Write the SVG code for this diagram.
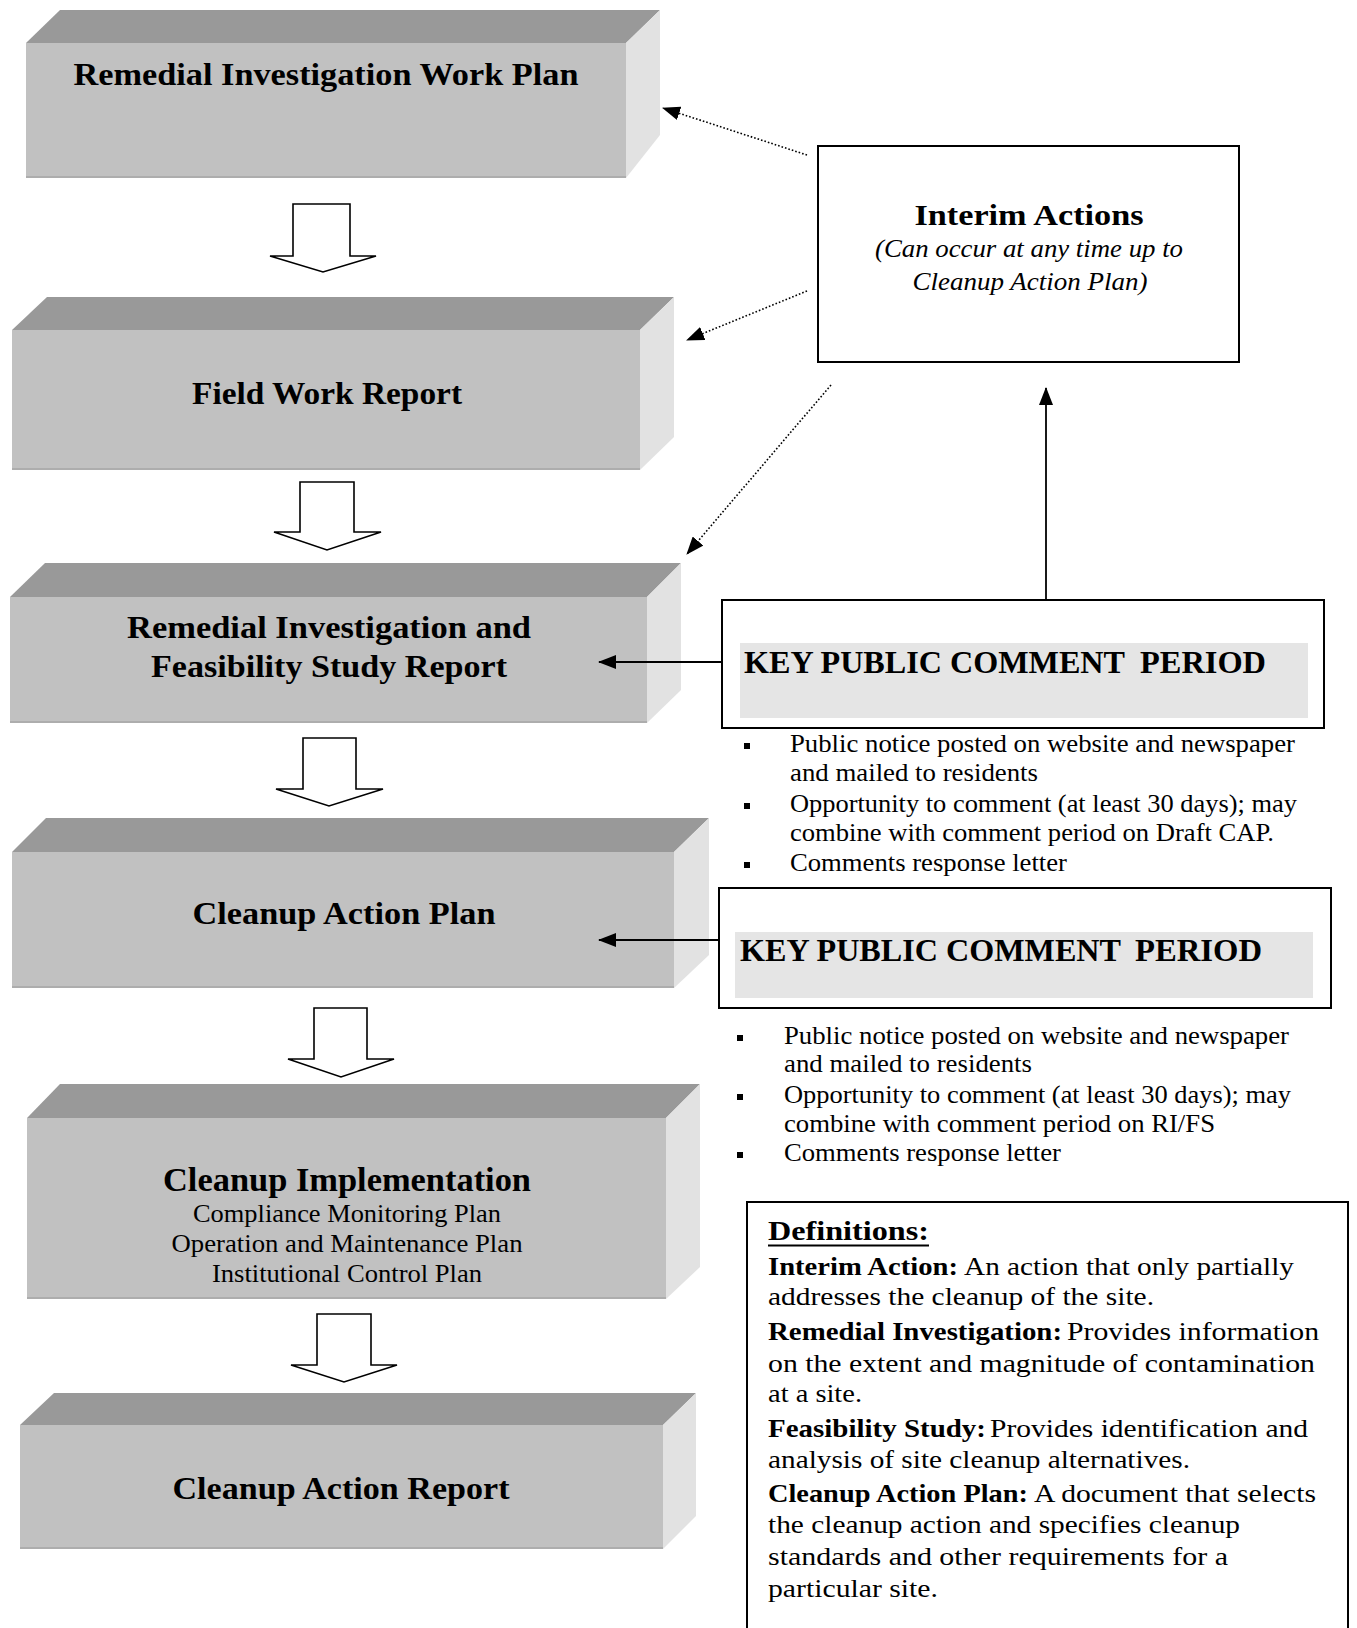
<svg xmlns="http://www.w3.org/2000/svg" width="1357" height="1628" viewBox="0 0 1357 1628">
<style>
.top{fill:#999999}
.front{fill:#c1c1c1}
.side{fill:#e2e2e2}
.edge{stroke:#adadad;stroke-width:2;fill:none}
.t{font-family:"Liberation Serif","Times New Roman",serif;fill:#000}
.b{font-weight:bold}
.i{font-style:italic}
.blk{fill:#fff;stroke:#000;stroke-width:1.6;stroke-linejoin:miter}
.frame{fill:#fff;stroke:#000;stroke-width:2}
.dot{stroke:#000;stroke-width:1.6;stroke-dasharray:1.6 2;fill:none}
.sol{stroke:#000;stroke-width:1.8;fill:none}
.bul{fill:#000}
</style>
<defs>
<marker id="ah" markerUnits="userSpaceOnUse" markerWidth="18" markerHeight="14" refX="17" refY="7" orient="auto">
<path d="M0,0 L18,7 L0,14 z" fill="#000"/>
</marker>
</defs>

<g id="box1">
<polygon class="top" points="26,43 60,10 660,10 626,43"/>
<polygon class="side" points="626,43 660,10 660,135 626,178"/>
<rect class="front" x="26" y="43" width="600" height="135"/>
<line class="edge" x1="26" y1="177" x2="626" y2="177"/>
<text class="t b" x="326" y="85" font-size="32" text-anchor="middle" textLength="505" lengthAdjust="spacingAndGlyphs">Remedial Investigation Work Plan</text>
</g>

<g id="box2">
<polygon class="top" points="12,330 47,297 674,297 640,330"/>
<polygon class="side" points="640,330 674,297 674,437 640,470"/>
<rect class="front" x="12" y="330" width="628" height="140"/>
<line class="edge" x1="12" y1="469" x2="640" y2="469"/>
<text class="t b" x="327" y="404" font-size="32" text-anchor="middle" textLength="270" lengthAdjust="spacingAndGlyphs">Field Work Report</text>
</g>

<g id="box3">
<polygon class="top" points="10,597 45,563 681,563 647,597"/>
<polygon class="side" points="647,597 681,563 681,690 647,723"/>
<rect class="front" x="10" y="597" width="637" height="126"/>
<line class="edge" x1="10" y1="722" x2="647" y2="722"/>
<text class="t b" x="329" y="638" font-size="32" text-anchor="middle" textLength="404" lengthAdjust="spacingAndGlyphs">Remedial Investigation and</text>
<text class="t b" x="329" y="677" font-size="32" text-anchor="middle" textLength="356" lengthAdjust="spacingAndGlyphs">Feasibility Study Report</text>
</g>

<g id="box4">
<polygon class="top" points="12,852 46,818 709,818 674,852"/>
<polygon class="side" points="674,852 709,818 709,955 674,988"/>
<rect class="front" x="12" y="852" width="662" height="136"/>
<line class="edge" x1="12" y1="987" x2="674" y2="987"/>
<text class="t b" x="344" y="924" font-size="32" text-anchor="middle" textLength="303" lengthAdjust="spacingAndGlyphs">Cleanup Action Plan</text>
</g>

<g id="box5">
<polygon class="top" points="27,1118 60,1084 700,1084 666,1118"/>
<polygon class="side" points="666,1118 700,1084 700,1267 666,1299"/>
<rect class="front" x="27" y="1118" width="639" height="181"/>
<line class="edge" x1="27" y1="1298" x2="666" y2="1298"/>
<text class="t b" x="347" y="1191" font-size="33" text-anchor="middle" textLength="368" lengthAdjust="spacingAndGlyphs">Cleanup Implementation</text>
<text class="t" x="347" y="1222" font-size="24.5" text-anchor="middle" textLength="308" lengthAdjust="spacingAndGlyphs">Compliance Monitoring Plan</text>
<text class="t" x="347" y="1252" font-size="24.5" text-anchor="middle" textLength="351" lengthAdjust="spacingAndGlyphs">Operation and Maintenance Plan</text>
<text class="t" x="347" y="1282" font-size="24.5" text-anchor="middle" textLength="270" lengthAdjust="spacingAndGlyphs">Institutional Control Plan</text>
</g>

<g id="box6">
<polygon class="top" points="20,1425 54,1393 696,1393 663,1425"/>
<polygon class="side" points="663,1425 696,1393 696,1516 663,1549"/>
<rect class="front" x="20" y="1425" width="643" height="124"/>
<line class="edge" x1="20" y1="1548" x2="663" y2="1548"/>
<text class="t b" x="341" y="1499" font-size="32" text-anchor="middle" textLength="337" lengthAdjust="spacingAndGlyphs">Cleanup Action Report</text>
</g>

<g id="interim">
<rect class="frame" x="818" y="146" width="421" height="216"/>
<text class="t b" x="1029" y="225" font-size="30" text-anchor="middle" textLength="229" lengthAdjust="spacingAndGlyphs">Interim Actions</text>
<text class="t i" x="1029" y="257" font-size="25" text-anchor="middle" textLength="308" lengthAdjust="spacingAndGlyphs">(Can occur at any time up to</text>
<text class="t i" x="1030" y="290" font-size="25" text-anchor="middle" textLength="235" lengthAdjust="spacingAndGlyphs">Cleanup Action Plan)</text>
</g>

<g id="kpcp1">
<rect class="frame" x="722" y="600" width="602" height="128"/>
<rect x="740" y="643" width="568" height="75" fill="#e5e5e5"/>
<text class="t b" x="744" y="673" font-size="31" textLength="381" lengthAdjust="spacingAndGlyphs">KEY PUBLIC COMMENT</text>
<text class="t b" x="1140" y="673" font-size="31" textLength="126" lengthAdjust="spacingAndGlyphs">PERIOD</text>
</g>

<g id="bullets1">
<rect class="bul" x="744" y="743" width="6" height="6"/>
<rect class="bul" x="744" y="803" width="6" height="6"/>
<rect class="bul" x="744" y="862" width="6" height="6"/>
<text class="t" x="790" y="752" font-size="25.5" textLength="505" lengthAdjust="spacingAndGlyphs">Public notice posted on website and newspaper</text>
<text class="t" x="790" y="781" font-size="25.5" textLength="248" lengthAdjust="spacingAndGlyphs">and mailed to residents</text>
<text class="t" x="790" y="812" font-size="25.5" textLength="507" lengthAdjust="spacingAndGlyphs">Opportunity to comment (at least 30 days); may</text>
<text class="t" x="790" y="841" font-size="25.5" textLength="484" lengthAdjust="spacingAndGlyphs">combine with comment period on Draft CAP.</text>
<text class="t" x="790" y="871" font-size="25.5" textLength="277" lengthAdjust="spacingAndGlyphs">Comments response letter</text>
</g>

<g id="kpcp2">
<rect class="frame" x="719" y="888" width="612" height="120"/>
<rect x="735" y="932" width="578" height="66" fill="#e5e5e5"/>
<text class="t b" x="740" y="961" font-size="31" textLength="381" lengthAdjust="spacingAndGlyphs">KEY PUBLIC COMMENT</text>
<text class="t b" x="1135" y="961" font-size="31" textLength="127" lengthAdjust="spacingAndGlyphs">PERIOD</text>
</g>

<g id="bullets2">
<rect class="bul" x="737" y="1035" width="6" height="6"/>
<rect class="bul" x="737" y="1094" width="6" height="6"/>
<rect class="bul" x="737" y="1152" width="6" height="6"/>
<text class="t" x="784" y="1044" font-size="25.5" textLength="505" lengthAdjust="spacingAndGlyphs">Public notice posted on website and newspaper</text>
<text class="t" x="784" y="1072" font-size="25.5" textLength="248" lengthAdjust="spacingAndGlyphs">and mailed to residents</text>
<text class="t" x="784" y="1103" font-size="25.5" textLength="507" lengthAdjust="spacingAndGlyphs">Opportunity to comment (at least 30 days); may</text>
<text class="t" x="784" y="1132" font-size="25.5" textLength="431" lengthAdjust="spacingAndGlyphs">combine with comment period on RI/FS</text>
<text class="t" x="784" y="1161" font-size="25.5" textLength="277" lengthAdjust="spacingAndGlyphs">Comments response letter</text>
</g>

<g id="definitions">
<rect class="frame" x="747" y="1202" width="601" height="440"/>
<text class="t b" x="768" y="1240" font-size="27" textLength="161" lengthAdjust="spacingAndGlyphs">Definitions:</text>
<line x1="768" y1="1245.5" x2="929" y2="1245.5" stroke="#000" stroke-width="2"/>
<text class="t b" x="768" y="1275" font-size="25.5" textLength="190" lengthAdjust="spacingAndGlyphs">Interim Action:</text>
<text class="t" x="964" y="1275" font-size="25.5" textLength="330" lengthAdjust="spacingAndGlyphs">An action that only partially</text>
<text class="t" x="768" y="1305" font-size="25.5" textLength="386" lengthAdjust="spacingAndGlyphs">addresses the cleanup of the site.</text>
<text class="t b" x="768" y="1340" font-size="25.5" textLength="294" lengthAdjust="spacingAndGlyphs">Remedial Investigation:</text>
<text class="t" x="1067" y="1340" font-size="25.5" textLength="252" lengthAdjust="spacingAndGlyphs">Provides information</text>
<text class="t" x="768" y="1372" font-size="25.5" textLength="547" lengthAdjust="spacingAndGlyphs">on the extent and magnitude of contamination</text>
<text class="t" x="768" y="1402" font-size="25.5" textLength="94" lengthAdjust="spacingAndGlyphs">at a site.</text>
<text class="t b" x="768" y="1437" font-size="25.5" textLength="218" lengthAdjust="spacingAndGlyphs">Feasibility Study:</text>
<text class="t" x="990" y="1437" font-size="25.5" textLength="318" lengthAdjust="spacingAndGlyphs">Provides identification and</text>
<text class="t" x="768" y="1468" font-size="25.5" textLength="422" lengthAdjust="spacingAndGlyphs">analysis of site cleanup alternatives.</text>
<text class="t b" x="768" y="1502" font-size="25.5" textLength="260" lengthAdjust="spacingAndGlyphs">Cleanup Action Plan:</text>
<text class="t" x="1034" y="1502" font-size="25.5" textLength="282" lengthAdjust="spacingAndGlyphs">A document that selects</text>
<text class="t" x="768" y="1533" font-size="25.5" textLength="472" lengthAdjust="spacingAndGlyphs">the cleanup action and specifies cleanup</text>
<text class="t" x="768" y="1565" font-size="25.5" textLength="460" lengthAdjust="spacingAndGlyphs">standards and other requirements for a</text>
<text class="t" x="768" y="1597" font-size="25.5" textLength="170" lengthAdjust="spacingAndGlyphs">particular site.</text>
</g>

<g id="connectors">
<polygon class="blk" points="293,204 350,204 350,256 376,256 323,272 270,256 293,256"/>
<polygon class="blk" points="300,482 354,482 354,532 381,532 327,550 274,532 300,532"/>
<polygon class="blk" points="303,738 356,738 356,789 383,789 329,806 276,789 303,789"/>
<polygon class="blk" points="314,1008 367,1008 367,1059 394,1059 341,1077 288,1059 314,1059"/>
<polygon class="blk" points="317,1314 371,1314 371,1365 397,1365 344,1382 291,1365 317,1365"/>
<line class="dot" x1="807" y1="155" x2="663" y2="108" marker-end="url(#ah)"/>
<line class="dot" x1="807" y1="291" x2="687" y2="340" marker-end="url(#ah)"/>
<line class="dot" x1="831" y1="385" x2="687" y2="554" marker-end="url(#ah)"/>
<line class="sol" x1="1046" y1="600" x2="1046" y2="388" marker-end="url(#ah)"/>
<line class="sol" x1="722" y1="662" x2="599" y2="662" marker-end="url(#ah)"/>
<line class="sol" x1="719" y1="940" x2="599" y2="940" marker-end="url(#ah)"/>
</g>
</svg>
